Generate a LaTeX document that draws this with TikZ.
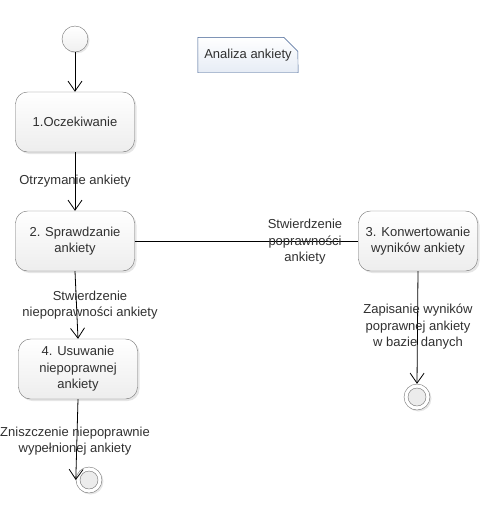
\documentclass[tikz,border=0pt]{standalone}
\usepackage{fontspec}
\setmainfont{Liberation Sans}
\usetikzlibrary{arrows.meta,shadows}

\definecolor{boxline}{HTML}{707070}
\definecolor{noteline}{HTML}{3B5B8F}
\definecolor{notefill}{HTML}{E6ECF5}
\definecolor{txt}{HTML}{303030}

\begin{document}
\begin{tikzpicture}[x=1pt,y=-1pt,
  font=\fontsize{13}{16.5}\selectfont, text=txt,
  state/.style={draw=boxline, rounded corners=12pt, minimum width=119pt,
    minimum height=60pt, align=center, top color=white, bottom color=gray!14,
    drop shadow={opacity=0.2, shadow xshift=2pt, shadow yshift=-2pt}},
  startnode/.style={circle, draw=boxline, minimum size=26pt, inner sep=0pt,
    top color=white, bottom color=gray!12,
    drop shadow={opacity=0.2, shadow xshift=1.5pt, shadow yshift=-1.5pt}},
  endnode/.style={circle, draw=boxline, minimum size=26pt, inner sep=0pt, fill=white,
    drop shadow={opacity=0.2, shadow xshift=1.5pt, shadow yshift=-1.5pt}},
  trans/.style={line width=0.8pt, -{Straight Barb[length=10pt,width=14pt]}},
  lbl/.style={align=center, inner sep=0pt}]
\useasboundingbox (0,0) rectangle (502,523);

% Draw note
\node[inner sep=0pt, minimum width=100pt, minimum height=35pt] (note) at (248,55) {};
\draw[noteline, top color=white, bottom color=notefill] (note.north west) -- ++(86,0) -- ++(14,14)
  -- (note.south east) -- (note.south west) -- cycle;
\node[inner sep=0pt] (notetext) at (note) {Analiza ankiety};

% Draw states
\node[startnode] (start) at (75,39) {};
\node[state] (s1) at (75,122) {1.Oczekiwanie};
\node[state] (s2) at (75,241) {2. Sprawdzanie\\ankiety};
\node[state] (s3) at (418,241) {3. Konwertowanie\\wyników ankiety};
\node[state] (s4) at (78,369) {4. Usuwanie\\niepoprawnej\\ankiety};

% Draw final states
\node[endnode] (end1) at (89,480) {};
\fill[gray!15, draw=boxline] (end1) circle (9pt);
\node[endnode] (end2) at (417,397) {};
\fill[gray!15, draw=boxline] (end2) circle (9pt);

% Draw transitions
\draw[trans] (start) -- (s1);
\draw[trans] (s1) -- (s2);
\draw[line width=0.8pt] (s2) -- (s3);
\draw[trans] (s2.south) -- (s4.north);
\draw[trans] (s3.south) -- (end2.north);
\draw[trans] (s4.south) -- (end1.west);

% Label transitions
\node[lbl] (l1) at (75,181) {Otrzymanie ankiety};
\node[lbl] (l2) at (305,242) {Stwierdzenie\\poprawności\\ankiety};
\node[lbl] (l3) at (90,305) {Stwierdzenie\\niepoprawności ankiety};
\node[lbl] (l4) at (418,327) {Zapisanie wyników\\poprawnej ankiety\\w bazie danych};
\node[lbl] (l5) at (75,441) {Zniszczenie niepoprawnie\\wypełnionej ankiety};

\end{tikzpicture}
\end{document}
